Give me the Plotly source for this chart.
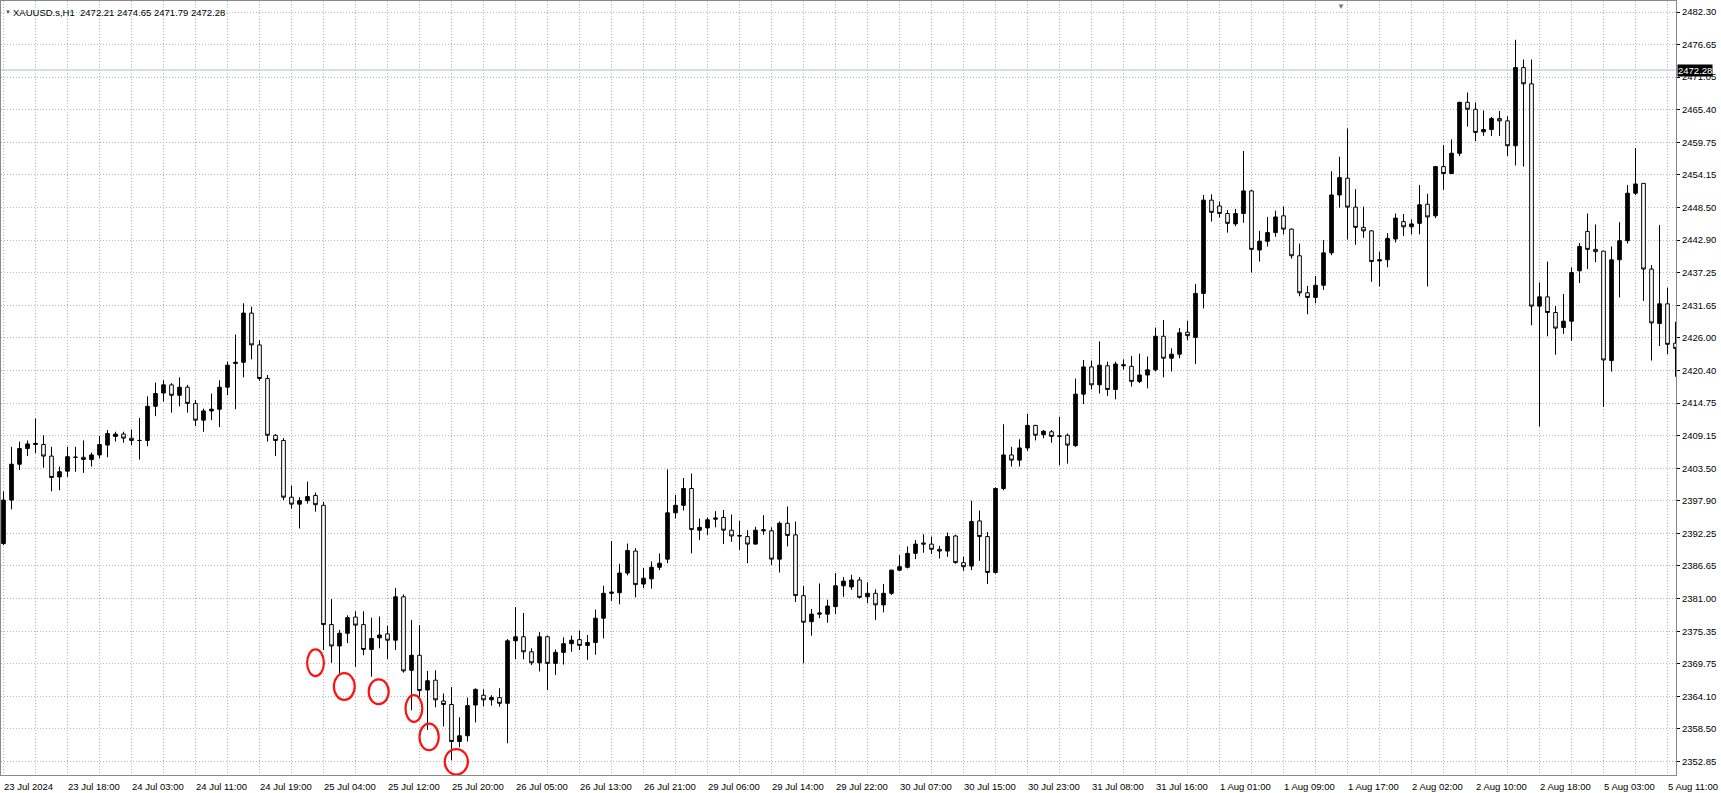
import plotly.graph_objects as go

# ---------------- data (XAUUSD.s, H1) ----------------
opens = [2390.5, 2398.0, 2404.2, 2406.9, 2407.6, 2407.6, 2405.6, 2402.0, 2403.0, 2405.4,
         2405.4, 2405.0, 2405.8, 2407.5, 2409.0, 2409.4, 2408.7, 2408.3, 2408.3, 2414.2,
         2416.5, 2417.9, 2416.1, 2417.5, 2414.7, 2411.8, 2413.4, 2413.7, 2417.5, 2421.6,
         2421.8, 2430.3, 2424.8, 2419.0, 2409.2, 2408.3, 2398.5, 2397.3, 2397.9, 2398.8,
         2397.1, 2376.5, 2372.8, 2375.0, 2377.8, 2376.5, 2372.2, 2374.2, 2374.9, 2373.8,
         2381.3, 2368.6, 2371.2, 2365.2, 2366.9, 2363.3, 2362.7, 2356.3, 2357.3, 2362.6,
         2364.3, 2363.5, 2363.9, 2362.9, 2373.7, 2374.4, 2371.8, 2369.9, 2374.4, 2369.8,
         2371.7, 2373.2, 2373.9, 2372.9, 2373.4, 2377.6, 2381.9, 2382.0, 2385.4, 2389.2,
         2383.5, 2384.4, 2386.4, 2387.8, 2395.8, 2397.1, 2400.0, 2392.8, 2393.2, 2394.7,
         2395.0, 2392.8, 2391.9, 2391.7, 2390.4, 2392.9, 2392.7, 2387.8, 2394.0, 2392.0,
         2381.5, 2377.0, 2378.3, 2378.3, 2379.6, 2383.2, 2383.0, 2384.2, 2381.3, 2381.9,
         2379.9, 2381.9, 2385.9, 2386.4, 2388.8, 2390.6, 2390.4, 2389.5, 2389.2, 2391.8,
         2387.2, 2386.6, 2394.4, 2391.7, 2385.5, 2400.0, 2405.8, 2404.9, 2407.0, 2410.9,
         2409.3, 2409.8, 2409.1, 2409.2, 2407.4, 2416.3, 2421.0, 2417.9, 2421.2, 2417.1,
         2421.4, 2421.1, 2418.5, 2419.6, 2420.5, 2426.3, 2422.5, 2423.2, 2427.0, 2426.1,
         2433.7, 2449.8, 2448.8, 2447.5, 2445.7, 2447.5, 2451.4, 2441.2, 2442.7, 2444.2,
         2447.1, 2444.8, 2440.2, 2433.8, 2433.0, 2435.1, 2440.7, 2450.7, 2453.6, 2448.6,
         2445.1, 2444.5, 2439.3, 2439.5, 2443.1, 2446.1, 2445.2, 2445.8, 2449.1, 2447.1,
         2455.6, 2454.4, 2457.9, 2466.7, 2465.5, 2461.6, 2462.0, 2463.9, 2463.5, 2459.2,
         2472.7, 2469.9, 2431.5, 2433.1, 2430.4, 2427.8, 2428.9, 2437.6, 2444.4, 2441.3,
         2441.0, 2422.1, 2439.5, 2442.8, 2451.0, 2452.7, 2437.9, 2428.5, 2431.9, 2425.1]

highs = [2399.5, 2407.2, 2408.1, 2408.3, 2412.1, 2409.2, 2407.2, 2403.8, 2407.2, 2407.2,
         2408.3, 2406.2, 2409.1, 2410.1, 2409.8, 2409.8, 2410.2, 2412.2, 2415.9, 2418.3,
         2418.7, 2418.2, 2419.2, 2417.9, 2415.3, 2413.8, 2416.4, 2418.7, 2421.9, 2426.6,
         2432.0, 2431.4, 2425.6, 2419.6, 2409.4, 2408.7, 2400.5, 2398.5, 2401.2, 2399.3,
         2397.7, 2380.9, 2375.6, 2378.1, 2378.8, 2378.8, 2377.7, 2377.9, 2376.3, 2382.8,
         2381.7, 2377.3, 2376.4, 2368.5, 2368.6, 2364.6, 2365.7, 2360.5, 2363.9, 2365.5,
         2365.3, 2364.3, 2365.5, 2374.0, 2379.5, 2378.5, 2372.4, 2375.2, 2374.6, 2372.2,
         2374.3, 2374.6, 2375.5, 2374.7, 2379.1, 2383.2, 2390.9, 2387.0, 2390.5, 2389.7,
         2386.3, 2387.4, 2388.8, 2403.3, 2398.9, 2401.8, 2402.6, 2394.8, 2395.0, 2396.1,
         2396.3, 2395.5, 2394.4, 2392.8, 2393.4, 2395.4, 2393.3, 2394.3, 2396.9, 2394.3,
         2383.2, 2379.2, 2383.6, 2380.8, 2385.4, 2384.7, 2385.1, 2384.7, 2383.8, 2382.6,
         2383.5, 2386.0, 2388.5, 2390.0, 2391.1, 2392.1, 2391.7, 2390.1, 2392.4, 2392.0,
         2388.2, 2397.9, 2396.2, 2392.5, 2400.2, 2411.1, 2407.2, 2408.5, 2412.9, 2411.0,
         2410.1, 2410.1, 2412.4, 2409.5, 2419.0, 2422.2, 2422.1, 2425.4, 2421.9, 2421.9,
         2422.3, 2422.9, 2423.3, 2422.8, 2427.8, 2429.1, 2424.2, 2427.7, 2429.0, 2435.3,
         2450.7, 2450.8, 2449.6, 2448.1, 2448.3, 2458.3, 2451.6, 2444.5, 2446.9, 2448.0,
         2448.7, 2444.9, 2442.3, 2435.0, 2436.7, 2442.9, 2454.8, 2457.3, 2462.2, 2451.7,
         2448.7, 2444.6, 2440.9, 2444.1, 2447.5, 2447.4, 2446.5, 2452.4, 2450.9, 2455.7,
         2459.3, 2460.3, 2466.8, 2468.4, 2466.7, 2465.3, 2464.2, 2465.2, 2464.3, 2477.5,
         2474.1, 2474.1, 2435.6, 2439.2, 2431.5, 2433.6, 2438.2, 2442.4, 2447.5, 2445.6,
         2441.0, 2441.8, 2446.0, 2452.4, 2458.8, 2452.7, 2438.6, 2445.5, 2434.7, 2428.8]

lows = [2390.2, 2396.4, 2403.2, 2405.6, 2406.1, 2403.6, 2399.5, 2399.7, 2402.0, 2402.9,
        2402.7, 2403.8, 2405.2, 2405.4, 2408.1, 2407.9, 2407.5, 2405.0, 2407.3, 2412.5,
        2415.0, 2413.1, 2414.2, 2413.1, 2410.8, 2409.8, 2411.8, 2410.6, 2416.1, 2413.7,
        2419.2, 2422.3, 2418.6, 2408.1, 2405.6, 2398.0, 2396.5, 2393.1, 2397.4, 2396.0,
        2372.1, 2369.9, 2368.1, 2373.3, 2369.2, 2371.2, 2367.5, 2372.4, 2370.5, 2372.1,
        2368.2, 2361.7, 2364.0, 2358.3, 2362.2, 2358.9, 2353.1, 2355.3, 2356.3, 2359.6,
        2362.4, 2362.5, 2362.3, 2356.0, 2370.5, 2370.5, 2369.5, 2368.4, 2365.2, 2367.8,
        2369.6, 2371.8, 2372.1, 2370.4, 2371.3, 2374.1, 2380.6, 2380.0, 2385.0, 2381.2,
        2382.8, 2382.7, 2385.9, 2387.1, 2394.8, 2396.2, 2388.8, 2391.1, 2392.0, 2393.3,
        2390.4, 2390.8, 2389.4, 2387.1, 2390.3, 2392.0, 2386.8, 2385.5, 2390.0, 2380.4,
        2369.8, 2374.6, 2377.6, 2376.8, 2378.3, 2381.3, 2382.5, 2381.0, 2380.2, 2377.3,
        2378.6, 2381.6, 2385.8, 2386.2, 2387.8, 2388.9, 2388.7, 2387.9, 2388.2, 2387.0,
        2385.8, 2385.9, 2387.5, 2383.5, 2385.3, 2399.7, 2403.8, 2403.8, 2406.5, 2408.3,
        2408.7, 2407.9, 2404.0, 2404.3, 2407.2, 2414.6, 2417.1, 2416.4, 2416.0, 2415.4,
        2420.5, 2417.6, 2418.2, 2417.3, 2420.2, 2419.2, 2420.2, 2422.5, 2425.6, 2421.5,
        2431.1, 2446.1, 2446.8, 2444.2, 2445.3, 2445.9, 2437.3, 2439.2, 2441.8, 2443.5,
        2443.9, 2439.7, 2433.2, 2430.1, 2432.0, 2434.3, 2440.3, 2448.5, 2443.0, 2442.1,
        2443.3, 2435.7, 2434.9, 2438.2, 2442.5, 2443.6, 2443.9, 2443.9, 2434.9, 2446.7,
        2451.6, 2454.3, 2457.4, 2462.5, 2460.0, 2460.9, 2460.9, 2460.9, 2457.4, 2455.8,
        2455.6, 2428.2, 2410.7, 2426.3, 2423.1, 2426.7, 2425.5, 2435.5, 2437.9, 2439.1,
        2414.1, 2420.2, 2433.0, 2442.3, 2450.7, 2432.4, 2422.1, 2424.6, 2423.2, 2419.3]

closes = [2398.0, 2404.2, 2406.9, 2407.7, 2407.8, 2405.6, 2401.9, 2402.9, 2405.5, 2405.4,
          2405.0, 2405.8, 2407.6, 2409.5, 2409.4, 2408.7, 2408.3, 2408.3, 2414.2, 2416.4,
          2417.9, 2416.1, 2417.5, 2414.7, 2411.8, 2413.4, 2413.7, 2417.5, 2421.3, 2421.8,
          2430.3, 2424.8, 2419.0, 2409.2, 2408.3, 2398.5, 2397.3, 2397.9, 2398.6, 2397.2,
          2376.5, 2372.8, 2375.0, 2377.7, 2376.4, 2372.2, 2374.1, 2374.7, 2373.8, 2381.3,
          2368.5, 2371.2, 2365.1, 2366.8, 2363.5, 2362.7, 2356.3, 2357.3, 2362.5, 2365.3,
          2363.5, 2363.9, 2362.9, 2373.7, 2374.4, 2371.8, 2369.9, 2374.4, 2369.8, 2371.7,
          2373.2, 2373.8, 2372.9, 2373.4, 2377.6, 2381.9, 2382.1, 2385.4, 2389.3, 2383.4,
          2384.5, 2386.4, 2387.1, 2395.8, 2397.1, 2400.0, 2392.9, 2393.3, 2394.6, 2394.9,
          2392.8, 2391.8, 2391.8, 2390.4, 2392.8, 2392.7, 2387.8, 2394.0, 2391.9, 2381.5,
          2376.9, 2378.3, 2378.5, 2379.7, 2383.2, 2384.0, 2384.2, 2381.2, 2381.9, 2379.9,
          2381.9, 2385.9, 2386.5, 2388.8, 2390.4, 2390.4, 2389.5, 2389.2, 2391.7, 2387.2,
          2386.5, 2394.3, 2391.7, 2385.5, 2400.0, 2405.8, 2404.9, 2407.0, 2410.9, 2409.2,
          2409.9, 2409.0, 2409.0, 2407.5, 2416.3, 2421.0, 2417.9, 2421.3, 2417.1, 2421.5,
          2421.2, 2418.5, 2419.6, 2420.5, 2426.3, 2422.5, 2423.2, 2426.9, 2426.4, 2433.7,
          2449.8, 2447.7, 2447.5, 2445.8, 2447.5, 2451.4, 2441.3, 2442.7, 2444.2, 2446.9,
          2444.8, 2440.2, 2433.8, 2433.0, 2435.1, 2440.7, 2450.7, 2453.7, 2448.6, 2445.1,
          2444.5, 2439.2, 2439.5, 2443.2, 2446.7, 2445.2, 2445.7, 2449.0, 2446.9, 2455.6,
          2454.4, 2457.9, 2466.7, 2465.5, 2461.5, 2462.0, 2463.9, 2463.5, 2459.2, 2472.7,
          2469.9, 2431.5, 2433.1, 2430.4, 2427.7, 2428.9, 2437.3, 2441.8, 2441.3, 2440.9,
          2422.2, 2439.5, 2442.8, 2451.0, 2452.6, 2437.9, 2428.6, 2431.9, 2424.9, 2424.2]

bar_index = list(range(len(opens)))

time_label_bars = list(range(0, 209, 8))
time_labels = ["23 Jul 2024", "23 Jul 18:00", "24 Jul 03:00", "24 Jul 11:00", "24 Jul 19:00",
               "25 Jul 04:00", "25 Jul 12:00", "25 Jul 20:00", "26 Jul 05:00", "26 Jul 13:00",
               "26 Jul 21:00", "29 Jul 06:00", "29 Jul 14:00", "29 Jul 22:00", "30 Jul 07:00",
               "30 Jul 15:00", "30 Jul 23:00", "31 Jul 08:00", "31 Jul 16:00", "1 Aug 01:00",
               "1 Aug 09:00", "1 Aug 17:00", "2 Aug 02:00", "2 Aug 10:00", "2 Aug 18:00",
               "5 Aug 03:00", "5 Aug 11:00"]

price_ticks = [2482.30, 2476.65, 2471.05, 2465.40, 2459.75, 2454.15, 2448.50, 2442.90,
               2437.25, 2431.65, 2426.00, 2420.40, 2414.75, 2409.15, 2403.50, 2397.90,
               2392.25, 2386.65, 2381.00, 2375.35, 2369.75, 2364.10, 2358.50, 2352.85]

last_price = 2472.28
header_text = "XAUUSD.s,H1  2472.21 2474.65 2471.79 2472.28"

# hand-drawn red circles (centre bar, centre price, width in bars, height in price)
circle_bar = [39.0, 42.6, 46.9, 51.3, 53.2, 56.6]
circle_price = [2369.9, 2365.8, 2364.9, 2362.0, 2357.1, 2352.8]
circle_w = [2.1, 2.6, 2.5, 2.1, 2.4, 2.9]
circle_h = [4.6, 4.6, 4.3, 4.6, 4.6, 4.4]

# ---------------- figure ----------------
FONT = "Liberation Sans"
FS = 9.5
GRID = "#aeb8c6"

fig = go.Figure()
fig.add_trace(go.Candlestick(
    x=bar_index, open=opens, high=highs, low=lows, close=closes,
    increasing=dict(fillcolor="#000000", line=dict(color="#000000", width=1)),
    decreasing=dict(fillcolor="#ffffff", line=dict(color="#000000", width=1)),
    whiskerwidth=0, showlegend=False, hoverinfo="skip",
))

shapes = []
# current price line
shapes.append(dict(type="line", xref="paper", x0=0, x1=1, yref="y", y0=last_price, y1=last_price,
                   line=dict(color="#aebccb", width=1), layer="below"))
for cx, cy, w, h in zip(circle_bar, circle_price, circle_w, circle_h):
    shapes.append(dict(type="circle", xref="x", yref="y",
                       x0=cx - w / 2, x1=cx + w / 2, y0=cy - h / 2, y1=cy + h / 2,
                       line=dict(color="#ff1111", width=2.2)))

annotations = []
for b, t in zip(time_label_bars, time_labels):
    annotations.append(dict(x=b, xref="x", y=0, yref="paper", text=t, showarrow=False,
                            xanchor="left", yanchor="top", xshift=-2, yshift=-4,
                            font=dict(family=FONT, size=FS, color="#000000")))
annotations.append(dict(x=1, xref="paper", y=last_price, yref="y", text=f"{last_price:.2f}",
                        showarrow=False, xanchor="left", yanchor="middle", xshift=1,
                        bgcolor="#000000", borderpad=0,
                        font=dict(family=FONT, size=FS, color="#ffffff")))
annotations.append(dict(x=0, xref="paper", y=1, yref="paper", text="▼", showarrow=False,
                        xanchor="left", yanchor="top", xshift=2, yshift=-6,
                        font=dict(family=FONT, size=6, color="#555555")))
annotations.append(dict(x=0, xref="paper", y=1, yref="paper", text=header_text, showarrow=False,
                        xanchor="left", yanchor="top", xshift=10, yshift=-4,
                        font=dict(family=FONT, size=FS, color="#000000")))
annotations.append(dict(x=167.2, xref="x", y=1, yref="paper", text="▼", showarrow=False,
                        xanchor="center", yanchor="top", yshift=1,
                        font=dict(family=FONT, size=8, color="#777777")))

fig.update_layout(
    width=1721, height=793,
    margin=dict(l=1, r=45, t=1, b=18),
    paper_bgcolor="#ffffff", plot_bgcolor="#ffffff",
    font=dict(family=FONT, size=FS, color="#000000"),
    shapes=shapes, annotations=annotations,
    boxgap=0.35,
    xaxis=dict(
        range=[-0.3125, 209.06], rangeslider=dict(visible=False),
        tickvals=list(range(0, 210, 4)), showticklabels=False, ticks="",
        showgrid=True, gridcolor=GRID, griddash="1px,2px", gridwidth=1,
        showline=True, linecolor="#8a8a8a", linewidth=1, mirror=True, zeroline=False,
    ),
    yaxis=dict(
        side="right", range=[2350.52, 2484.20],
        tickvals=price_ticks, ticktext=[f"{v:.2f}" for v in price_ticks],
        ticks="outside", ticklen=3, tickcolor="#000000",
        showgrid=True, gridcolor=GRID, griddash="1px,2px", gridwidth=1,
        showline=True, linecolor="#8a8a8a", linewidth=1, mirror=True, zeroline=False,
        tickfont=dict(family=FONT, size=FS, color="#000000"),
    ),
)

fig.write_html("out.html",
               config={"displayModeBar": False},
               post_script="document.body.style.margin='0px';document.body.style.overflow='hidden';")
